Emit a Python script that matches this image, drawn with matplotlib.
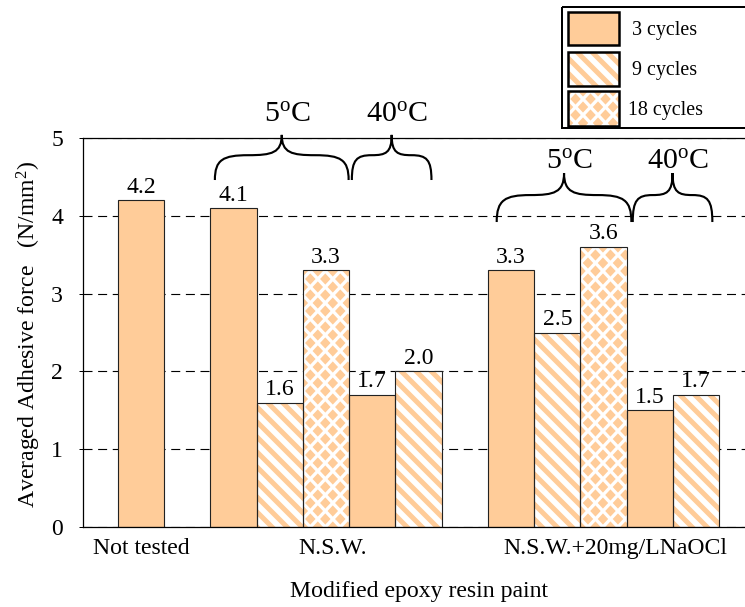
import matplotlib.pyplot as plt
from matplotlib.patches import Rectangle, PathPatch
from matplotlib.collections import PolyCollection
from matplotlib.path import Path

ORANGE = '#FFCC99'

plt.rcParams['font.family'] = 'Liberation Serif'
plt.rcParams['mathtext.fontset'] = 'custom'
plt.rcParams['mathtext.rm'] = 'Liberation Serif'
plt.rcParams['mathtext.it'] = 'Liberation Serif:italic'
plt.rcParams['hatch.linewidth'] = 4.0
plt.rcParams['hatch.color'] = ORANGE

# data
groups = ['Not tested', 'N.S.W.', 'N.S.W.+20mg/LNaOCl']
cycles = ['3 cycles', '9 cycles', '18 cycles']
bar_cycle = ['3 cycles',
             '3 cycles', '9 cycles', '18 cycles', '3 cycles', '9 cycles',
             '3 cycles', '9 cycles', '18 cycles', '3 cycles', '9 cycles']
bar_value = [4.2,
             4.1, 1.6, 3.3, 1.7, 2.0,
             3.3, 2.5, 3.6, 1.5, 1.7]
temps = ['5', '40', '5', '40']

# layout
bar_slot = [1, 3, 4, 5, 6, 7, 9, 10, 11, 12, 13]
group_pos = [1, 5.15, 11.25]
# brace: left, right, bottom, tip, label y
braces = [(2.60, 5.49, 4.46, 5.04, 5.30),
          (5.56, 7.28, 4.46, 5.04, 5.30),
          (8.69, 11.60, 3.92, 4.55, 4.70),
          (11.63, 13.35, 3.92, 4.55, 4.70)]

STRIPES = '\\\\'


def diamond_fill(ax, x0, y0, w, h, px, py, clip, zorder, s=0.7):
    polys = []
    nx = int(w / px) + 2
    ny = int(h / (py / 2)) + 2
    for j in range(ny + 1):
        yc = y0 + j * py / 2
        off = (j % 2) * px / 2
        for i in range(-1, nx + 1):
            xc = x0 + off + i * px
            polys.append([(xc - px / 2 * s, yc), (xc, yc + py / 2 * s),
                          (xc + px / 2 * s, yc), (xc, yc - py / 2 * s)])
    coll = PolyCollection(polys, facecolors=ORANGE, edgecolors='none', zorder=zorder)
    ax.add_collection(coll, autolim=False)
    coll.set_clip_path(clip)


def brace(ax, x0, x1, yb, yt):
    xm = (x0 + x1) / 2
    h = yt - yb
    verts, codes = [], []
    for xa in (x0, x1):
        w = xm - xa
        verts += [(xa, yb), (xa, yb + 0.45 * h), (xa + 0.12 * w, yb + 0.55 * h),
                  (xa + 0.5 * w, yb + 0.55 * h),
                  (xa + 0.85 * w, yb + 0.55 * h), (xm, yb + 0.6 * h), (xm, yt)]
        codes += [Path.MOVETO] + [Path.CURVE4] * 6
    ax.add_patch(PathPatch(Path(verts, codes), fill=False, lw=1.7,
                           edgecolor='k', clip_on=False, zorder=5))


fig = plt.figure(figsize=(745 / 90, 607 / 90), dpi=90)
ax = fig.add_axes([83 / 745, 80 / 607, 671 / 745, 389 / 607])
ax.set_xlim(-0.25, 14.25)
ax.set_ylim(0, 5)

px_d = 15 / 46.3
py_d = 16 / 77.8

for x, v, c in zip(bar_slot, bar_value, bar_cycle):
    if c == '3 cycles':
        ax.bar(x, v, width=1, color=ORANGE, lw=0, zorder=2)
    elif c == '9 cycles':
        ax.bar(x, v, width=1, color='white', edgecolor=ORANGE, hatch=STRIPES, lw=0, zorder=2)
    else:
        b = ax.bar(x, v, width=1, color='white', lw=0, zorder=2)
        diamond_fill(ax, x - 0.5, 0, 1, v, px_d, py_d, b[0], zorder=2.5)

frame = ax.bar(bar_slot, bar_value, width=1, fill=False, edgecolor='#222222', lw=0.9, zorder=3)
ax.bar_label(frame, fmt='%.1f', padding=2, fontsize=19)

for (x0, x1, yb, yt, ty), t in zip(braces, temps):
    brace(ax, x0, x1, yb, yt)
    ax.text((x0 + x1) / 2 + 0.12, ty, t + r'$^{\mathrm{o}}$C', fontsize=24,
            ha='center', va='center', clip_on=False)

ax.yaxis.grid(True, ls=(0, (8, 5)), color='k', lw=0.9)
ax.set_axisbelow(True)
ax.set_yticks(range(6))
ax.tick_params(axis='y', labelsize=19, length=3, pad=13, color='k')
ax.set_xticks(group_pos, groups)
ax.tick_params(axis='x', labelsize=19, length=0, pad=9)
for sp in ax.spines.values():
    sp.set_linewidth(1)
    sp.set_color('k')

ax.set_ylabel('Averaged Adhesive force   (N/mm$^2$)', fontsize=19)
ax.yaxis.set_label_coords(-0.06, 0.495)
ax.set_xlabel('Modified epoxy resin paint', fontsize=19)
ax.xaxis.set_label_coords(0.5, -0.139)

# legend box
lg = fig.add_axes([562 / 745, 479 / 607, 198 / 745, 121 / 607])
lg.set_xlim(0, 198)
lg.set_ylim(121, 0)
lg.axis('off')
lg.add_patch(Rectangle((0, 0), 198, 121, fill=False, lw=1.6, edgecolor='k', clip_on=False))
rows = [(5, 33), (45, 34), (84, 35)]
for (y0, hh), c in zip(rows, cycles):
    if c == '3 cycles':
        lg.add_patch(Rectangle((6, y0), 51, hh, facecolor=ORANGE, lw=0))
    elif c == '9 cycles':
        lg.add_patch(Rectangle((6, y0), 51, hh, facecolor='white', edgecolor=ORANGE,
                               hatch=STRIPES, lw=0))
    else:
        r = Rectangle((6, y0), 51, hh, facecolor='white', lw=0)
        lg.add_patch(r)
        diamond_fill(lg, 6, y0, 51, hh, 15, 16, r, zorder=1.5)
    lg.add_patch(Rectangle((6, y0), 51, hh, fill=False, lw=2, edgecolor='k', zorder=3))
    lg.text(103, y0 + hh / 2 + 2, c, fontsize=16, ha='center', va='center')

fig.savefig('out.png', dpi=90)
